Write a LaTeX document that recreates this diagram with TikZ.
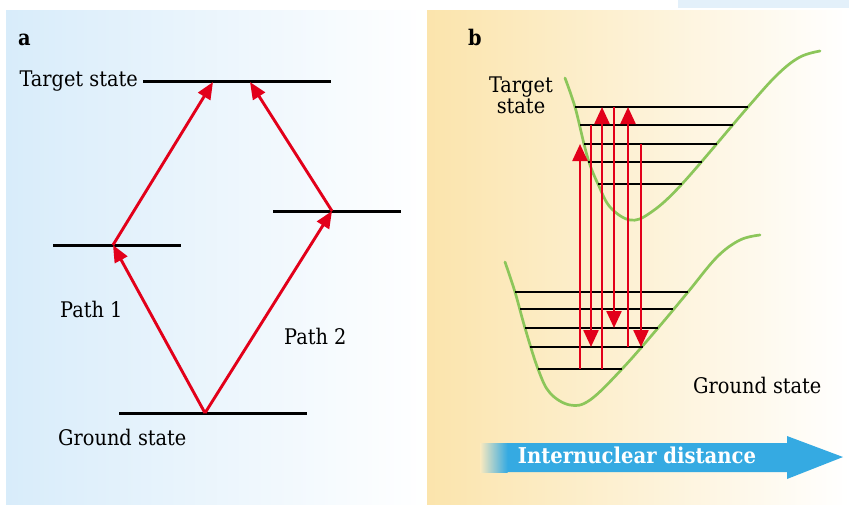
\documentclass[tikz,border=0pt]{standalone}
\usepackage{fontspec}
\setmainfont{DejaVu Serif Condensed}
\usetikzlibrary{arrows.meta}
\definecolor{redarr}{RGB}{226,0,26}
\definecolor{greencurve}{RGB}{140,198,90}
\definecolor{bluearr}{RGB}{53,170,226}
\definecolor{panelblue}{RGB}{216,236,250}
\definecolor{panelyellow}{RGB}{251,228,172}
\definecolor{stripblue}{RGB}{227,240,250}
\definecolor{fadeleft}{RGB}{251,234,190}
\begin{document}
\begin{tikzpicture}[x=1pt,y=-1pt,
  lbl/.style={inner sep=0pt, anchor=base west, font=\fontsize{21.5}{24}\selectfont},
  lblc/.style={inner sep=0pt, anchor=base, font=\fontsize{21.5}{24}\selectfont},
  panellbl/.style={inner sep=0pt, anchor=base west, font=\fontsize{21.5}{24}\selectfont\bfseries},
  lvla/.style={line width=3pt, black},
  lvlb/.style={line width=2.5pt, black},
  arra/.style={draw=redarr, line width=2.9pt, -{Triangle[length=17pt,width=14pt]}},
  arrb/.style={draw=redarr, line width=2.4pt, -{Triangle[length=17pt,width=15pt]}},
  pot/.style={draw=greencurve, line width=2.7pt, line cap=round}]
\useasboundingbox (0,0) rectangle (849,504);
% backgrounds
\fill[stripblue] (678,0) rectangle (849,8);
\shade[left color=panelblue, right color=white] (6,10) rectangle (427,504);
\shade[left color=panelyellow, right color=white] (427,10) rectangle (849,504);

% ---------- panel a ----------
\node[panellbl] (la) at (18,45) {a};
\coordinate (tl) at (143,81);  \coordinate (tr) at (331,81);
\coordinate (p2l) at (273,211); \coordinate (p2r) at (401,211);
\coordinate (p1l) at (53,245);  \coordinate (p1r) at (181,245);
\coordinate (gl) at (119,413);  \coordinate (gr) at (307,413);
\draw[lvla] (tl) -- (tr);
\draw[lvla] (p2l) -- (p2r);
\draw[lvla] (p1l) -- (p1r);
\draw[lvla] (gl) -- (gr);
\coordinate (g0) at (205,413);
\coordinate (p1) at (113,245);
\coordinate (p2) at (332,211);
\coordinate (t1) at (213,82);
\coordinate (t2) at (250,82);
\draw[arra] (g0) -- (p1);
\draw[arra] (p1) -- (t1);
\draw[arra] (g0) -- (p2);
\draw[arra] (p2) -- (t2);
\node[lbl, anchor=base east] (ta) at (138,86) {Target state};
\node[lbl] (path1) at (60,317) {Path 1};
\node[lbl] (path2) at (284,344) {Path 2};
\node[lbl] (ga) at (58,445) {Ground state};

% ---------- panel b ----------
\node[panellbl] (lb) at (468,45) {b};
\node[lblc] (tb1) at (521,92) {Target};
\node[lblc] (tb2) at (521,113) {state};
\node[lbl] (gb) at (693,393) {Ground state};

% potential curves
\draw[pot] plot[smooth, tension=0.6] coordinates {(565,78) (575,107) (584,144) (590,165) (598,184) (610,207) (630,220) (650,213) (682,184) (748,107) (778,74) (800,57) (820,51)};
\draw[pot] plot[smooth, tension=0.6] coordinates {(505,262) (515,292) (525,328) (538,369) (550,393) (570,405) (590,400) (622,369) (658,328) (688,292) (717,257) (740,240) (760,235)};

% upper levels
\draw[lvlb] (575,107) -- (748,107);
\draw[lvlb] (580,125) -- (733,125);
\draw[lvlb] (584,144) -- (717,144);
\draw[lvlb] (588,162) -- (702,162);
\draw[lvlb] (598,184) -- (682,184);
% lower levels
\draw[lvlb] (515,292) -- (688,292);
\draw[lvlb] (520,309) -- (673,309);
\draw[lvlb] (525,328) -- (658,328);
\draw[lvlb] (530,347) -- (643,347);
\draw[lvlb] (538,369) -- (622,369);

% vertical transitions
\coordinate (s1) at (580,369); \coordinate (e1) at (580,144);
\coordinate (s2) at (591,125); \coordinate (e2) at (591,347);
\coordinate (s3) at (602,369); \coordinate (e3) at (602,107);
\coordinate (s4) at (614,107); \coordinate (e4) at (614,328);
\coordinate (s5) at (628,347); \coordinate (e5) at (628,107);
\coordinate (s6) at (641,144); \coordinate (e6) at (641,347);
\draw[arrb] (s1) -- (e1);
\draw[arrb] (s2) -- (e2);
\draw[arrb] (s3) -- (e3);
\draw[arrb] (s4) -- (e4);
\draw[arrb] (s5) -- (e5);
\draw[arrb] (s6) -- (e6);

% internuclear distance arrow
\fill[bluearr] (507,443) -- (787,443) -- (787,436) -- (843,457) -- (787,479) -- (787,472) -- (507,472) -- cycle;
\shade[left color=fadeleft, right color=bluearr] (480,443) rectangle (507.5,472);
\node[inner sep=0pt, anchor=base, text=white, font=\fontsize{21.8}{24}\selectfont\bfseries] (ind) at (637,463) {Internuclear distance};
\end{tikzpicture}
\end{document}
